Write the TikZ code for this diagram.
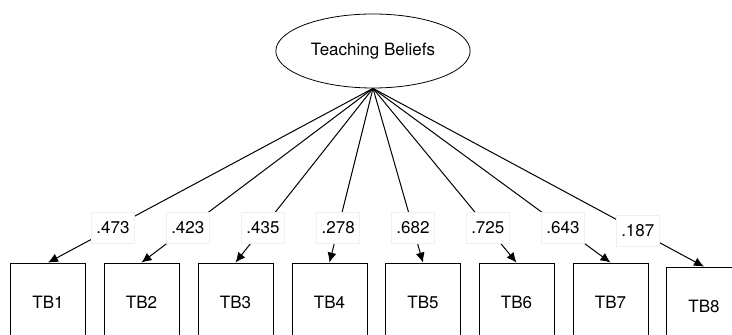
\documentclass[tikz,border=0pt]{standalone}
\usepackage{fontspec}
\setmainfont{TeX Gyre Heros}
\usetikzlibrary{shapes.geometric,arrows.meta}

\begin{document}
\begin{tikzpicture}[x=0.5pt,y=-0.5pt,
    latent/.style={draw,ellipse,minimum width=82.5pt,minimum height=37pt,
      font=\fontsize{8.5}{10}\selectfont},
    item/.style={draw,rectangle,minimum width=37.5pt,minimum height=39pt,
      font=\fontsize{8.5}{10}\selectfont},
    loading/.style={fill=white,draw=gray!12,minimum width=21.5pt,
      minimum height=15.5pt,inner sep=1pt,font=\fontsize{8.5}{10}\selectfont},
    effect/.style={-{Latex[length=5pt,width=4.5pt]},line width=0.5pt},
  ]
  \useasboundingbox (0,0) rectangle (732,335);

  \node [latent] (beliefs) at (373,51) {Teaching Beliefs};

  % indicators with their loadings
  \foreach \i/\x/\y/\w in {1/48/302/.473, 2/141.5/302/.423, 3/235.5/302/.435,
      4/329.5/302/.278, 5/423/302/.682, 6/516.5/302/.725, 7/610.5/302/.643,
      8/704/306/.187}
  {
    \node [item] (tb\i) at (\x,\y) {TB\i};
    \draw [effect] (beliefs.south) -- node [loading,pos=0.8] {\w} (tb\i.north);
  }
\end{tikzpicture}
\end{document}
